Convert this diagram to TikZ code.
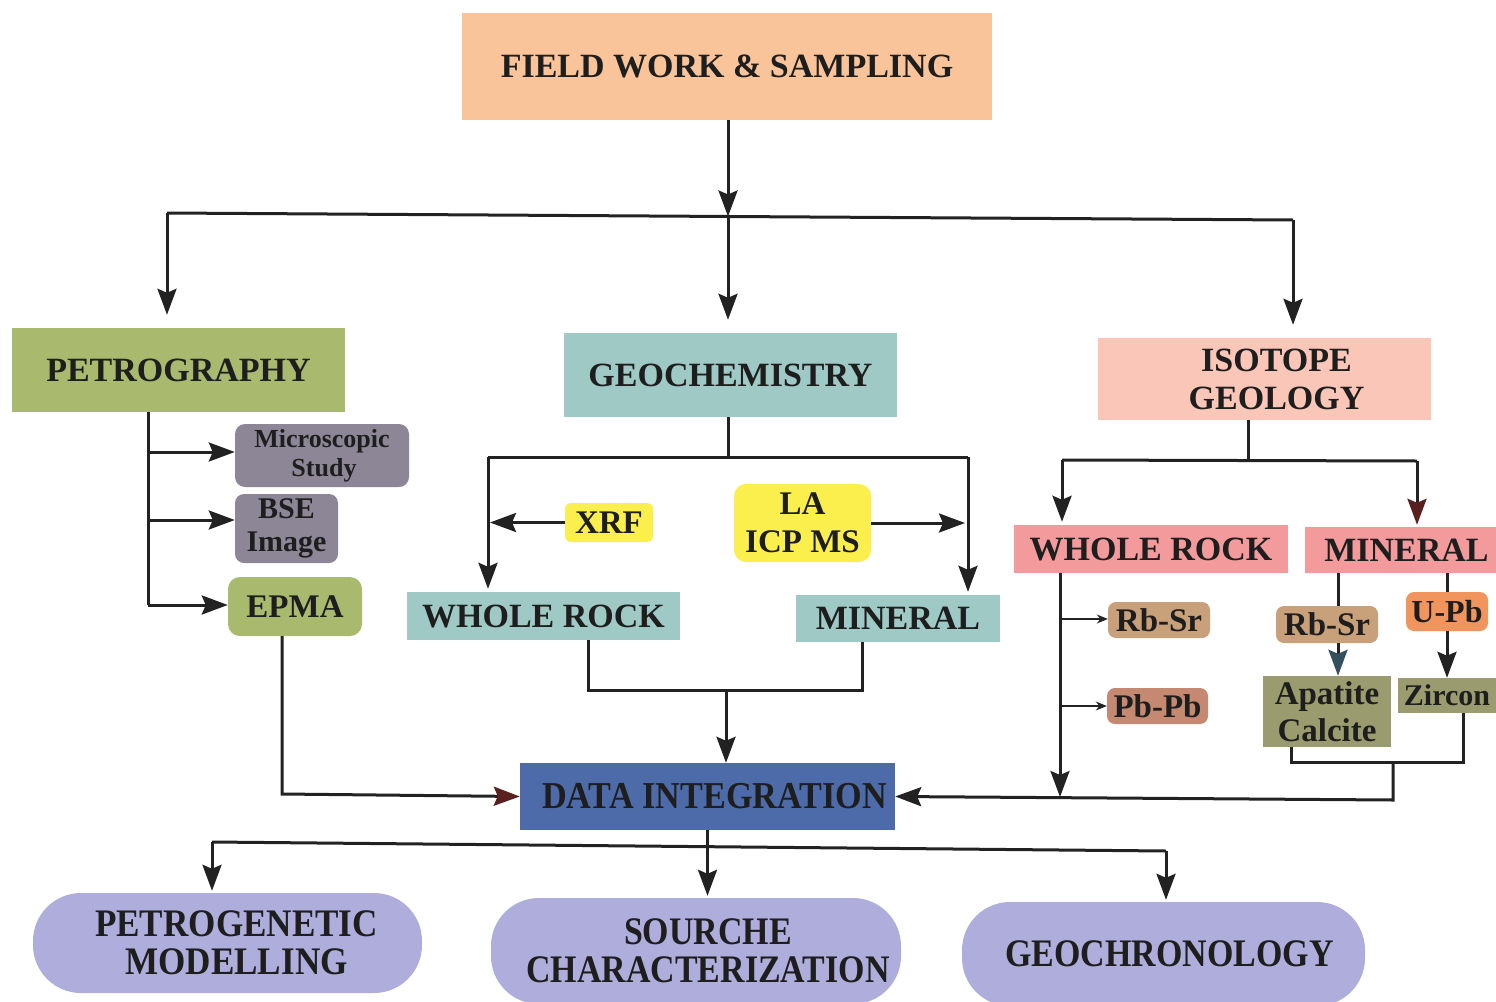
\documentclass[tikz,border=0pt]{standalone}
\usepackage{fontspec}
\setmainfont{Liberation Serif}
\newfontfamily\condfont[FakeStretch=0.87]{Liberation Serif}
\newfontfamily\condfontw[FakeStretch=0.9]{Liberation Serif}
\usetikzlibrary{arrows.meta}
\definecolor{txt}{HTML}{1E1E1E}
\definecolor{cpeach}{HTML}{F9C49A}
\definecolor{colive}{HTML}{A9B96E}
\definecolor{cgray}{HTML}{8C8696}
\definecolor{cteal}{HTML}{9FC9C5}
\definecolor{cyellow}{HTML}{FBEF4E}
\definecolor{cpink}{HTML}{F9C6B8}
\definecolor{csalmon}{HTML}{F29A9C}
\definecolor{ctan}{HTML}{C8A07A}
\definecolor{cbrown}{HTML}{C58871}
\definecolor{corange}{HTML}{F0955E}
\definecolor{cmoss}{HTML}{9A9B6E}
\definecolor{cblue}{HTML}{4D6BA8}
\definecolor{clav}{HTML}{AEADDB}
\definecolor{cline}{HTML}{222222}
\definecolor{tipred}{HTML}{5A2020}
\definecolor{tipslate}{HTML}{34505E}
\begin{document}
\begin{tikzpicture}[x=1pt,y=-1pt,
  box/.style={draw=none, inner sep=0pt, text=txt, align=center,
    font=\bfseries\fontsize{34}{38}\selectfont},
  small/.style={box, font=\bfseries\fontsize{33}{37}\selectfont},
  oval/.style={box, fill=clav, rounded corners=48pt,
    font=\condfont\bfseries\fontsize{39}{38}\selectfont},
  conn/.style={draw=cline, line width=3pt},
  arr/.style={conn, -{Stealth[length=26pt,width=19pt,inset=4pt]}},
  arrc/.style={conn, -{Stealth[length=26pt,width=19pt,inset=4pt,color=#1]}},
  thinarr/.style={draw=cline, line width=1.6pt, -{Stealth[length=11pt,width=9pt]}}
]
\useasboundingbox (0,0) rectangle (1496,1001);
\fill[white] (0,0) rectangle (1496,1001);

% main boxes
\node[box, fill=cpeach, minimum width=530pt, minimum height=107pt] (field) at (727,66.5) {FIELD WORK \& SAMPLING};
\node[box, fill=colive, minimum width=333pt, minimum height=84pt] (petro) at (178.5,370) {\raisebox{-6pt}{PETROGRAPHY}};
\node[box, fill=cteal, minimum width=333pt, minimum height=84pt] (geo) at (730.5,375) {\raisebox{-3pt}{GEOCHEMISTRY}};
\node[box, fill=cpink, minimum width=333pt, minimum height=82pt] (iso) at (1264.5,379) {\hspace*{24pt}ISOTOPE\\\hspace*{24pt}GEOLOGY};

% petrography children
\node[box, fill=cgray, rounded corners=10pt, minimum width=174pt, minimum height=63pt,
  font=\bfseries\fontsize{26}{29}\selectfont] (micro) at (322,455.5) {Microscopic\\\hspace*{4pt}Study};
\node[box, fill=cgray, rounded corners=9pt, minimum width=103pt, minimum height=69pt,
  font=\bfseries\fontsize{30}{33}\selectfont] (bse) at (286.5,528.5) {BSE\\Image};
\node[small, fill=colive, rounded corners=12pt, minimum width=134pt, minimum height=59pt] (epma) at (295,606.5) {EPMA};

% geochemistry children
\node[small, fill=cyellow, rounded corners=6pt, minimum width=88pt, minimum height=39pt] (xrf) at (609,522.5) {XRF};
\node[small, fill=cyellow, rounded corners=12pt, minimum width=137pt, minimum height=78pt,
  font=\bfseries\fontsize{33}{38}\selectfont] (la) at (802.5,523) {LA\\ICP MS};
\node[box, fill=cteal, minimum width=273pt, minimum height=48pt] (wrg) at (543.5,616) {WHOLE ROCK};
\node[box, fill=cteal, minimum width=204pt, minimum height=47pt] (ming) at (898,618.5) {MINERAL};

% isotope children
\node[box, fill=csalmon, minimum width=274pt, minimum height=48pt] (wri) at (1151,549) {WHOLE ROCK};
\node[box, fill=csalmon, minimum width=191pt, minimum height=46pt] (mini) at (1400.5,550) {\hspace*{12pt}MINERAL};
\node[small, fill=ctan, rounded corners=8pt, minimum width=102pt, minimum height=36pt] (rbsra) at (1159,620) {Rb-Sr};
\node[small, fill=cbrown, rounded corners=8pt, minimum width=101pt, minimum height=36pt] (pbpb) at (1157.5,706) {Pb-Pb};
\node[small, fill=ctan, rounded corners=8pt, minimum width=102pt, minimum height=37pt] (rbsrb) at (1327,624.5) {Rb-Sr};
\node[small, fill=corange, rounded corners=8pt, minimum width=82pt, minimum height=39pt,
  font=\bfseries\fontsize{32}{36}\selectfont] (upb) at (1447,611.5) {U-Pb};
\node[small, fill=cmoss, minimum width=128pt, minimum height=71pt,
  font=\bfseries\fontsize{33}{37}\selectfont] (apat) at (1327,711.5) {Apatite\\Calcite};
\node[small, fill=cmoss, minimum width=98pt, minimum height=35pt,
  font=\bfseries\fontsize{30}{34}\selectfont] (zir) at (1447,695.5) {Zircon};

% data integration
\node[box, fill=cblue, minimum width=375pt, minimum height=67pt,
  font=\condfontw\bfseries\fontsize{38}{40}\selectfont] (data) at (707.5,796.5) {\hspace*{14pt}DATA INTEGRATION};

% outputs
\node[oval, minimum width=389pt, minimum height=100pt,
  font=\condfontw\bfseries\fontsize{39}{38}\selectfont] (petgen) at (227.5,943) {\hspace*{18pt}PETROGENETIC\\\hspace*{18pt}MODELLING};
\node[oval, minimum width=410pt, minimum height=106pt] (sour) at (696,951) {\hspace*{24pt}SOURCHE\\\hspace*{24pt}CHARACTERIZATION};
\node[oval, minimum width=403pt, minimum height=104pt] (chron) at (1163.5,954) {\hspace*{12pt}GEOCHRONOLOGY};

% ---- connectors: top
\coordinate (hl) at (167,213);
\coordinate (hr) at (1293,220);
\coordinate (hm) at (728,216.5);
\draw[arr] (field.south -| hm) -- (hm);
\draw[conn] (hl) -- (hr);
\draw[arr, shorten >=13pt] (hl) -- (hl |- petro.north);
\draw[arr, shorten >=13pt] (hm) -- (hm |- geo.north);
\draw[arr, shorten >=13pt] (hr) -- (hr |- iso.north);

% petrography
\coordinate (p0) at (148,412);
\coordinate (pa) at (148,452);
\coordinate (pb) at (148,520);
\coordinate (pc) at (148,605);
\draw[conn] (p0) -- (pc);
\draw[arr] (pa) -- (pa -| micro.west);
\draw[arr] (pb) -- (pb -| bse.west);
\draw[arr] (pc) -- (pc -| epma.west);
\coordinate (e1) at (282,794);
\draw[arrc=tipred] (e1 |- epma.south) -- (e1) -- (data.west);

% geochemistry
\coordinate (g1) at (488,457);
\coordinate (g2) at (968,457);
\draw[conn] (geo.south -| hm) -- (hm |- g1);
\draw[conn] (g1) -- (g2);
\draw[arr, shorten >=3pt] (g1) -- (g1 |- wrg.north);
\draw[arr, shorten >=3pt] (g2) -- (g2 |- ming.north);
\draw[arr, shorten >=2pt] (xrf.west) -- (xrf.west -| g1);
\draw[arr, shorten >=3pt] (la.east) -- (la.east -| g2);
\coordinate (g3) at (588,690);
\coordinate (g4) at (862,690);
\coordinate (g5) at (726,690);
\draw[conn] (g3 |- wrg.south) -- (g3) -- (g4) -- (g4 |- ming.south);
\draw[arr] (g5) -- (g5 |- data.north);

% isotope
\coordinate (i0) at (1248,460);
\coordinate (i1) at (1062,460);
\coordinate (i2) at (1417,461);
\draw[conn] (i0 |- iso.south) -- (i0);
\draw[conn] (i1) -- (i2);
\draw[arr, shorten >=3pt] (i1) -- (i1 |- wri.north);
\draw[arrc=tipred, shorten >=2pt] (i2) -- (i2 |- mini.north);
\coordinate (w1) at (1060,797);
\draw[arr] (w1 |- wri.south) -- (w1);
\coordinate (wa) at (1061,619);
\coordinate (wb) at (1061,706);
\draw[thinarr] (wa) -- (wa -| rbsra.west);
\draw[thinarr] (wb) -- (wb -| pbpb.west);
\coordinate (m1) at (1338,600);
\draw[conn] (m1 |- mini.south) -- (m1 |- rbsrb.north);
\draw[arrc=tipslate] (m1 |- rbsrb.south) -- (m1 |- apat.north);
\draw[conn] (upb.north |- mini.south) -- (upb.north);
\draw[arr] (upb.south) -- (zir.north);
\coordinate (k1) at (1291,762);
\coordinate (k2) at (1463,762);
\coordinate (k3) at (1393,762);
\coordinate (k4) at (1393,800);
\draw[conn] (k1 |- apat.south) -- (k1) -- (k2) -- (k2 |- zir.south);
\draw[arr] (k3) -- (k4) -- (data.east);

% outputs
\coordinate (dl) at (212,842);
\coordinate (dr) at (1166,851);
\draw[conn] (dl) -- (dr);
\draw[arr, shorten >=2pt] (data.south) -- (data.south |- sour.north);
\draw[arr, shorten >=2pt] (dl) -- (dl |- petgen.north);
\draw[arr, shorten >=2pt] (dr) -- (dr |- chron.north);
\end{tikzpicture}
\end{document}
